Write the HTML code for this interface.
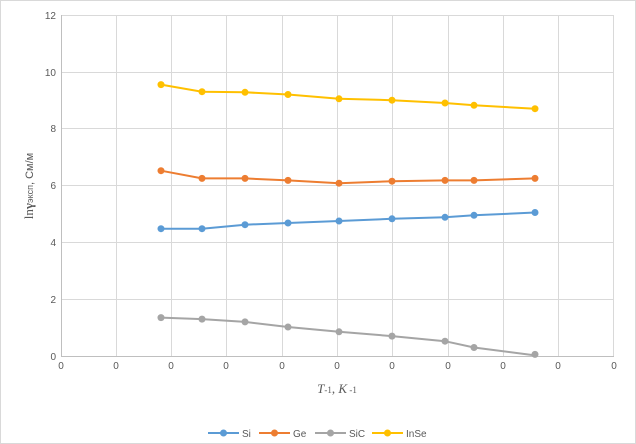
<!DOCTYPE html>
<html><head><meta charset="utf-8"><style>
body{margin:0;background:#fff}
svg{display:block;font-family:"Liberation Sans",sans-serif}
</style></head><body>
<svg width="636" height="444" viewBox="0 0 636 444" xmlns="http://www.w3.org/2000/svg">
<rect x="0.5" y="0.5" width="635" height="443" fill="#fff" stroke="#d9d9d9"/>
<g stroke="#d9d9d9" stroke-width="1">
<line x1="61" y1="15.5" x2="614" y2="15.5"/>
<line x1="61" y1="72.5" x2="614" y2="72.5"/>
<line x1="61" y1="128.5" x2="614" y2="128.5"/>
<line x1="61" y1="185.5" x2="614" y2="185.5"/>
<line x1="61" y1="242.5" x2="614" y2="242.5"/>
<line x1="61" y1="299.5" x2="614" y2="299.5"/>
<line x1="116.5" y1="15" x2="116.5" y2="356"/>
<line x1="171.5" y1="15" x2="171.5" y2="356"/>
<line x1="226.5" y1="15" x2="226.5" y2="356"/>
<line x1="282.5" y1="15" x2="282.5" y2="356"/>
<line x1="337.5" y1="15" x2="337.5" y2="356"/>
<line x1="392.5" y1="15" x2="392.5" y2="356"/>
<line x1="448.5" y1="15" x2="448.5" y2="356"/>
<line x1="503.5" y1="15" x2="503.5" y2="356"/>
<line x1="558.5" y1="15" x2="558.5" y2="356"/>
<line x1="613.5" y1="15" x2="613.5" y2="356"/>
</g>
<line x1="61.5" y1="15" x2="61.5" y2="356" stroke="#bfbfbf"/>
<line x1="61" y1="356.5" x2="614" y2="356.5" stroke="#bfbfbf"/>
<g font-size="10" fill="#595959" text-anchor="end">
<text x="56" y="19">12</text><text x="56" y="76">10</text><text x="56" y="132">8</text>
<text x="56" y="189">6</text><text x="56" y="246">4</text><text x="56" y="303">2</text><text x="56" y="360">0</text>
</g>
<g font-size="10" fill="#595959" text-anchor="middle">
<text x="61" y="369">0</text><text x="116" y="369">0</text><text x="171" y="369">0</text><text x="226" y="369">0</text>
<text x="282" y="369">0</text><text x="337" y="369">0</text><text x="392" y="369">0</text><text x="448" y="369">0</text>
<text x="503" y="369">0</text><text x="558" y="369">0</text><text x="614" y="369">0</text>
</g>
<text transform="translate(33,186) rotate(-90)" text-anchor="middle" font-size="11" fill="#595959"><tspan font-family="Liberation Serif" font-size="13">ln</tspan><tspan font-weight="bold" font-family="Liberation Serif" font-size="13">γ</tspan><tspan font-size="9">эксп</tspan>, См/м</text>
<text x="337" y="393" text-anchor="middle" font-size="13" fill="#595959" font-family="Liberation Serif"><tspan font-style="italic">T</tspan><tspan font-size="9">-1</tspan>, <tspan font-style="italic">K</tspan><tspan font-size="9"> -1</tspan></text>
<g fill="none" stroke-width="2">
<polyline stroke="#ffc000" points="161,84.6 202,91.7 245,92.3 288,94.5 339,98.8 392,100.2 445,103 474,105.3 535,108.7"/>
<polyline stroke="#ed7d31" points="161,170.7 202,178.4 245,178.4 288,180.4 339,183.2 392,181.2 445,180.4 474,180.4 535,178.4"/>
<polyline stroke="#5b9bd5" points="161,228.7 202,228.7 245,224.7 288,223 339,221 392,218.8 445,217.3 474,215.3 535,212.5"/>
<polyline stroke="#a5a5a5" points="161,317.6 202,319.1 245,321.9 288,327 339,331.8 392,336.1 445,341.2 474,347.5 535,355.4"/>
</g>
<g fill="#ffc000"><circle cx="161" cy="84.6" r="3.5"/><circle cx="202" cy="91.7" r="3.5"/><circle cx="245" cy="92.3" r="3.5"/><circle cx="288" cy="94.5" r="3.5"/><circle cx="339" cy="98.8" r="3.5"/><circle cx="392" cy="100.2" r="3.5"/><circle cx="445" cy="103" r="3.5"/><circle cx="474" cy="105.3" r="3.5"/><circle cx="535" cy="108.7" r="3.5"/></g>
<g fill="#ed7d31"><circle cx="161" cy="170.7" r="3.5"/><circle cx="202" cy="178.4" r="3.5"/><circle cx="245" cy="178.4" r="3.5"/><circle cx="288" cy="180.4" r="3.5"/><circle cx="339" cy="183.2" r="3.5"/><circle cx="392" cy="181.2" r="3.5"/><circle cx="445" cy="180.4" r="3.5"/><circle cx="474" cy="180.4" r="3.5"/><circle cx="535" cy="178.4" r="3.5"/></g>
<g fill="#5b9bd5"><circle cx="161" cy="228.7" r="3.5"/><circle cx="202" cy="228.7" r="3.5"/><circle cx="245" cy="224.7" r="3.5"/><circle cx="288" cy="223" r="3.5"/><circle cx="339" cy="221" r="3.5"/><circle cx="392" cy="218.8" r="3.5"/><circle cx="445" cy="217.3" r="3.5"/><circle cx="474" cy="215.3" r="3.5"/><circle cx="535" cy="212.5" r="3.5"/></g>
<g fill="#a5a5a5"><circle cx="161" cy="317.6" r="3.5"/><circle cx="202" cy="319.1" r="3.5"/><circle cx="245" cy="321.9" r="3.5"/><circle cx="288" cy="327" r="3.5"/><circle cx="339" cy="331.8" r="3.5"/><circle cx="392" cy="336.1" r="3.5"/><circle cx="445" cy="341.2" r="3.5"/><circle cx="474" cy="347.5" r="3.5"/><circle cx="535" cy="354.4" r="3.5"/></g>
<g stroke-width="2" font-size="10" fill="#595959">
<line x1="208" y1="433" x2="239" y2="433" stroke="#5b9bd5"/><circle cx="223.5" cy="433" r="3.5" fill="#5b9bd5"/><text x="242" y="437">Si</text>
<line x1="259" y1="433" x2="290" y2="433" stroke="#ed7d31"/><circle cx="274.5" cy="433" r="3.5" fill="#ed7d31"/><text x="293" y="437">Ge</text>
<line x1="315" y1="433" x2="346" y2="433" stroke="#a5a5a5"/><circle cx="330.5" cy="433" r="3.5" fill="#a5a5a5"/><text x="349" y="437">SiC</text>
<line x1="372" y1="433" x2="403" y2="433" stroke="#ffc000"/><circle cx="387.5" cy="433" r="3.5" fill="#ffc000"/><text x="406" y="437">InSe</text>
</g>
</svg>
</body></html>
